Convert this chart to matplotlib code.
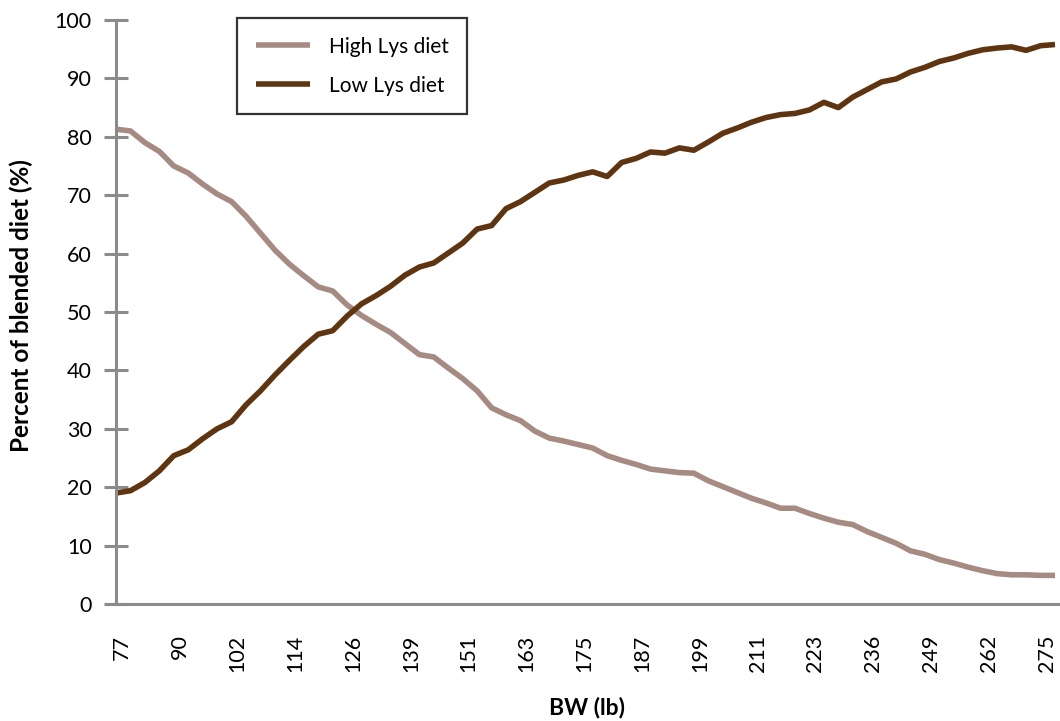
import matplotlib
matplotlib.use("Agg")
import matplotlib.pyplot as plt
import matplotlib.transforms as mtransforms
import numpy as np

# Tick labels (BW, lb) shown every 4th category
bw_tick_labels = [77, 90, 102, 114, 126, 139, 151, 163, 175, 187, 199, 211, 223, 236, 249, 262, 275]

high_lys = [81.3, 81.0, 79.0, 77.5, 75.0, 73.8, 71.9, 70.2, 68.9, 66.4,
            63.5, 60.6, 58.2, 56.2, 54.3, 53.6, 51.2, 49.4, 47.9, 46.5,
            44.6, 42.7, 42.3, 40.4, 38.6, 36.5, 33.6, 32.4, 31.4, 29.6,
            28.4, 27.9, 27.3, 26.7, 25.4, 24.6, 23.9, 23.1, 22.8, 22.5,
            22.4, 21.1, 20.1, 19.1, 18.1, 17.3, 16.4, 16.4, 15.5, 14.7,
            14.0, 13.6, 12.4, 11.4, 10.4, 9.1, 8.5, 7.6, 7.0, 6.3,
            5.7, 5.2, 5.0, 5.0, 4.9, 4.9]

low_lys = [19.0, 19.4, 20.8, 22.8, 25.4, 26.4, 28.3, 30.0, 31.2, 34.1,
           36.5, 39.2, 41.7, 44.1, 46.2, 46.8, 49.3, 51.4, 52.8, 54.4,
           56.3, 57.7, 58.4, 60.1, 61.8, 64.2, 64.8, 67.7, 68.9, 70.5,
           72.1, 72.6, 73.4, 74.0, 73.2, 75.6, 76.3, 77.4, 77.2, 78.1,
           77.7, 79.1, 80.6, 81.5, 82.5, 83.3, 83.8, 84.0, 84.6, 85.9,
           85.0, 86.8, 88.1, 89.4, 89.9, 91.1, 91.9, 92.9, 93.5, 94.3,
           94.9, 95.2, 95.4, 94.8, 95.6, 95.8]

tick_step = 4

plt.rcParams['font.family'] = ['Lato', 'DejaVu Sans']

fig = plt.figure(figsize=(10.6, 7.21), dpi=100)
ax = fig.add_axes([116/1060, 117/721, (1058-116)/1060, 584/721])

x = np.arange(len(high_lys))
ax.plot(x, high_lys, color='#A68B83', lw=4.0, label='High Lys diet',
        solid_joinstyle='round', solid_capstyle='butt')
ax.plot(x, low_lys, color='#5E3510', lw=4.0, label='Low Lys diet',
        solid_joinstyle='round', solid_capstyle='butt')

n = len(high_lys)
ax.set_xlim(0, (n - 1) * 942 / 939)
ax.set_ylim(0, 100)

ax.set_yticks(np.arange(0, 101, 10))
ax.set_xticks(np.arange(len(bw_tick_labels)) * tick_step)
ax.set_xticklabels([str(v) for v in bw_tick_labels], rotation=90)

gray = '#8B8B8E'
for s in ['top', 'right']:
    ax.spines[s].set_visible(False)
for s in ['left', 'bottom']:
    ax.spines[s].set_color(gray)
    ax.spines[s].set_linewidth(2.2)

ax.tick_params(axis='y', direction='inout', length=17, width=2.2, color=gray,
               labelsize=15.5, pad=9)
ax.tick_params(axis='x', length=0, labelsize=15.5, pad=22)

offset = mtransforms.ScaledTranslation(6/100, 0, fig.dpi_scale_trans)
for lab in ax.get_xticklabels():
    lab.set_transform(lab.get_transform() + offset)

ax.set_xlabel('BW (lb)', fontsize=16.5, fontweight='bold', labelpad=18)
ax.set_ylabel('Percent of blended diet (%)', fontsize=17.5, fontweight='bold')
ax.yaxis.set_label_coords(33/1060, (721 - 306)/721, transform=fig.transFigure)

leg = ax.legend(loc='upper left', bbox_to_anchor=(237/1060, 1 - 18/721),
                bbox_transform=fig.transFigure, borderaxespad=0,
                fontsize=15, frameon=True, fancybox=False, handlelength=2.6,
                handletextpad=0.9, labelspacing=0.9, borderpad=0.9)
leg.get_frame().set_edgecolor('black')
leg.get_frame().set_linewidth(1.6)

fig.savefig('out.png', dpi=100)
